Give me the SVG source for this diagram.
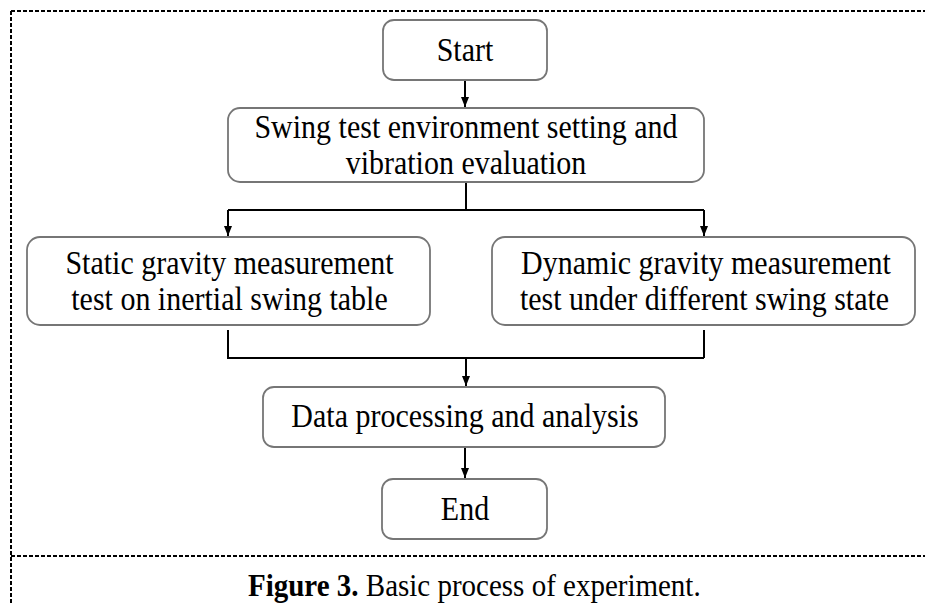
<svg xmlns="http://www.w3.org/2000/svg" width="925" height="603" viewBox="0 0 925 603">
<style>
.box{fill:#fff;stroke:#767676;stroke-width:1.8}
.t{font-family:"Liberation Serif","Times New Roman",serif;font-size:30px;fill:#000;text-anchor:middle}
.con{fill:none;stroke:#000;stroke-width:2}
.dash{fill:none;stroke:#000;stroke-width:2;stroke-dasharray:4 2}
.cap{font-family:"Liberation Serif","Times New Roman",serif;font-size:29px;fill:#000}
</style>
<defs>
<marker id="ah" viewBox="0 0 10 10" refX="10" refY="5" markerWidth="10" markerHeight="10" markerUnits="userSpaceOnUse" orient="auto">
<path d="M0,1 L10,5 L0,9 Z" fill="#000"/>
</marker>
</defs>
<rect width="925" height="603" fill="#fff"/>
<g id="frame">
<path class="dash" d="M11,11 H925 M11,11 V603 M11,556 H925"/>
</g>
<g id="connectors">
<path class="con" d="M465,80 V107" marker-end="url(#ah)"/>
<path class="con" d="M466,182 V210 M228,210 H704"/>
<path class="con" d="M228,210 V236" marker-end="url(#ah)"/>
<path class="con" d="M704,210 V236" marker-end="url(#ah)"/>
<path class="con" d="M228,330 V358 H704 M704,330 V358"/>
<path class="con" d="M466,358 V386" marker-end="url(#ah)"/>
<path class="con" d="M465,447 V478" marker-end="url(#ah)"/>
</g>
<g id="start">
<rect class="box" x="383" y="20" width="164" height="60" rx="11"/>
<text class="t" transform="translate(465,61) scale(1,1.12)">Start</text>
</g>
<g id="swing">
<rect class="box" x="228" y="108" width="476" height="74" rx="12"/>
<text class="t" transform="translate(466,138) scale(1,1.12)">Swing test environment setting and</text>
<text class="t" transform="translate(466,174) scale(1,1.12)">vibration evaluation</text>
</g>
<g id="static">
<rect class="box" x="27" y="237" width="403" height="88" rx="13"/>
<text class="t" transform="translate(229.5,274) scale(1,1.12)">Static gravity measurement</text>
<text class="t" transform="translate(229.5,310) scale(1,1.12)">test on inertial swing table</text>
</g>
<g id="dynamic">
<rect class="box" x="492" y="237" width="423" height="88" rx="13"/>
<text class="t" transform="translate(706,274) scale(1,1.12)">Dynamic gravity measurement</text>
<text class="t" transform="translate(704.5,310) scale(1,1.12)">test under different swing state</text>
</g>
<g id="data">
<rect class="box" x="263" y="387" width="402" height="60" rx="11"/>
<text class="t" transform="translate(465,427) scale(1,1.12)">Data processing and analysis</text>
</g>
<g id="end">
<rect class="box" x="382" y="479" width="165" height="60" rx="11"/>
<text class="t" transform="translate(465,520) scale(1,1.12)">End</text>
</g>
<text class="cap" transform="translate(248,596) scale(1,1.1)"><tspan font-weight="bold">Figure 3.</tspan> Basic process of experiment.</text>
</svg>
